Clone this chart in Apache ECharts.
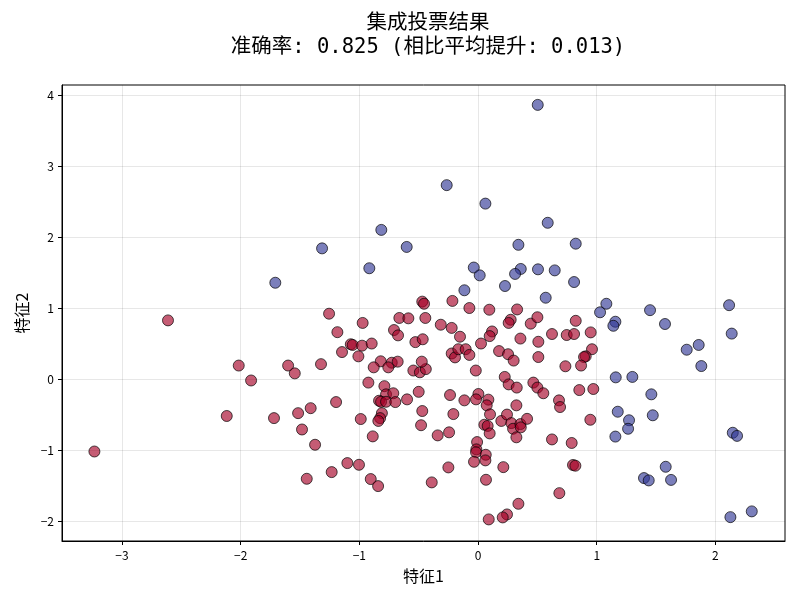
<!DOCTYPE html>
<html>
<head>
<meta charset="utf-8">
<script src="https://cdn.jsdelivr.net/npm/echarts@6/dist/echarts.min.js"></script>
<style>
html, body { margin: 0; padding: 0; background: #fff; }
#chart { width: 800px; height: 600px; }
</style>
</head>
<body>
<div id="chart"></div>
<script>
// 预测为类别0的点(红)
var redX = [-2.612, -2.016, -1.912, -1.60, -1.544, -2.117, -1.719, -1.516, -1.483, -3.232,
	-1.255, -0.972, -0.663, -0.587, -1.185, -0.708, -0.674, -0.528, -1.072, -1.056,
	-0.977, -0.896, -1.146, -1.008, -0.820, -0.879, -0.727, -0.677, -0.756, -0.545,
	-1.323, -0.924, -0.789, -0.775, -0.714, -0.834, -0.817, -0.775, -0.697, -0.598,
	-1.196, -1.41, -0.50, -0.47, -0.455, -0.466, -0.49, -0.44, -0.474,
	-0.216, -0.073, 0.095, 0.329, -0.444, -0.314, -0.222, -0.152, 0.275, 0.258,
	0.444, 0.50, 0.118, 0.098, 0.025, 0.357, 0.508, -0.222, -0.194, -0.166,
	-0.104, -0.073, 0.177, 0.253, 0.30, 0.508, -0.019, 0.225, 0.258, 0.326,
	0.466, 0.50, -0.236, -0.115, 0.003, -0.017, 0.087, 0.073, 0.323, -0.47,
	0.823, 0.623, 0.747, 0.809, 0.949, 0.96, 0.907, 0.893, 0.736, 0.868,
	0.55, 0.853, 0.971, 0.682, 0.691,
	-0.988, -0.81, -0.825, -0.84, -0.48, -0.887, -1.373, -1.101, -1.003, -1.233,
	-1.443, -0.904, -0.842,
	-0.208, -0.34, -0.244, 0.101, 0.053, 0.081, 0.098, 0.196, 0.244, 0.28,
	0.295, 0.357, 0.36, 0.323, 0.413, -0.008, -0.014, -0.017, -0.034, 0.065,
	0.062, -0.25, 0.213, -0.39, 0.067, 0.34, 0.244, 0.208, 0.09,
	0.946, 0.623, 0.789, 0.80, 0.82, 0.685];
var redY = [0.826, 0.19, -0.02, 0.19, 0.08, -0.52, -0.55, -0.48, -0.71, -1.02,
	0.92, 0.79, 0.86, 0.855, 0.66, 0.69, 0.615, 0.52, 0.49, 0.48,
	0.47, 0.50, 0.38, 0.32, 0.25, 0.165, 0.23, 0.245, 0.165, 0.12,
	0.21, -0.05, -0.10, -0.215, -0.20, -0.305, -0.32, -0.32, -0.324, -0.286,
	-0.324, -0.41, -0.18, 1.09, 1.06, 0.56, 0.095, 0.14, 0.245,
	1.10, 1.00, 0.976, 0.98, 0.86, 0.765, 0.72, 0.596, 0.835, 0.79,
	0.78, 0.87, 0.67, 0.605, 0.50, 0.57, 0.525, 0.36, 0.305, 0.42,
	0.42, 0.34, 0.394, 0.35, 0.26, 0.31, 0.12, 0.03, -0.075, -0.12,
	-0.05, -0.12, -0.225, -0.30, -0.21, -0.286, -0.29, -0.37, -0.37, -0.45,
	0.82, 0.634, 0.62, 0.634, 0.657, 0.42, 0.32, 0.31, 0.18, 0.19,
	-0.20, -0.155, -0.14, -0.30, -0.394,
	-0.563, -0.48, -0.55, -0.59, -0.65, -0.807, -0.925, -1.183, -1.207, -1.31,
	-1.404, -1.408, -1.507,
	-0.493, -0.793, -0.75, -0.497, -0.643, -0.66, -0.765, -0.59, -0.50, -0.62,
	-0.70, -0.634, -0.68, -0.82, -0.56, -0.887, -0.99, -1.03, -1.165, -1.066,
	-1.145, -1.244, -1.24, -1.455, -1.418, -1.756, -1.906, -1.948, -1.976,
	-0.573, -0.85, -0.90, -1.21, -1.22, -1.606];

// 预测为类别1的点(蓝)
var blueX = [0.503, -0.264, 0.062, -0.815, -1.314, -0.601, -0.916, 0.340, -0.036, 0.014,
	0.36, 0.312, 0.505, 0.227, -0.115, -1.708, 0.587, 0.823, 0.646, 0.809,
	0.570, 1.081, 1.028, 1.449, 2.115, 1.157, 1.14, 1.16, 1.30, 1.46,
	1.177, 1.472, 1.272, 1.264, 1.157, 1.398, 1.438, 1.575, 2.137, 1.859,
	1.758, 1.881, 2.146, 2.182, 1.581, 1.626, 2.126, 2.306];
var blueY = [3.86, 2.73, 2.47, 2.10, 1.84, 1.86, 1.56, 1.89, 1.57, 1.46,
	1.55, 1.48, 1.545, 1.31, 1.25, 1.356, 2.20, 1.906, 1.53, 1.366,
	1.145, 1.06, 0.94, 0.97, 1.04, 0.807, 0.75, 0.024, 0.03, -0.215,
	-0.46, -0.51, -0.58, -0.70, -0.81, -1.394, -1.427, 0.775, 0.64, 0.48,
	0.413, 0.183, -0.756, -0.80, -1.235, -1.42, -1.944, -1.863];

// 刻度
var xTicks = [-3, -2, -1, 0, 1, 2];
var yTicks = [-2, -1, 0, 1, 2, 3, 4];

var titleText = '集成投票结果\n准确率: 0.825 (相比平均提升: 0.013)';
var xName = '特征1';
var yName = '特征2';

function pairs(xs, ys) {
	var out = [];
	for (var i = 0; i < xs.length; i++) {
		out.push([xs[i], ys[i]]);
	}
	return out;
}

function tickLabel(v) {
	v = Math.round(v);
	return v < 0 ? '\u2212' + Math.abs(v) : String(v);
}

var FONT = '"Noto Sans CJK SC", "DejaVu Sans", sans-serif';
var TITLE_FONT = '"DejaVu Sans Mono", "Noto Sans CJK SC", sans-serif';

function axisBase(ticks) {
	return {
		type : 'value',
		axisLine : { show : true, onZero : false, lineStyle : { color : '#000', width : 1 } },
		axisTick : { show : true, length : 4, customValues : ticks, lineStyle : { color : '#000' } },
		axisLabel : { color : '#000', fontSize : 12, fontFamily : FONT, customValues : ticks, formatter : tickLabel },
		splitLine : { show : true, lineStyle : { color : 'rgba(0,0,0,0.12)', width : 0.8 } },
		nameLocation : 'middle',
		nameTextStyle : { color : '#000', fontSize : 16, fontFamily : FONT }
	};
}

var myChart = echarts.init(document.getElementById('chart'), null, { renderer : 'canvas' });

var xAxis = axisBase(xTicks);
xAxis.min = -3.505;
xAxis.max = 2.586;
xAxis.name = xName;
xAxis.nameGap = 27;

var yAxis = axisBase(yTicks);
yAxis.min = -2.28;
yAxis.max = 4.14;
yAxis.name = yName;
yAxis.nameGap = 30;

var option = {
	backgroundColor : '#fff',
	animation : false,
	title : {
		text : titleText,
		left : 423,
		top : 7,
		textAlign : 'center',
		textStyle : {
			fontSize : 20.5,
			fontWeight : 'normal',
			color : '#000',
			fontFamily : TITLE_FONT,
			lineHeight : 24
		}
	},
	grid : {
		left : 62,
		right : 15,
		top : 85,
		bottom : 59,
		show : true,
		borderColor : '#000',
		borderWidth : 1,
		backgroundColor : 'transparent'
	},
	xAxis : xAxis,
	yAxis : yAxis,
	series : [ {
		name : '类别0',
		type : 'scatter',
		symbolSize : 11,
		itemStyle : {
			color : 'rgba(165,0,38,0.8)',
			borderColor : 'rgba(0,0,0,0.85)',
			borderWidth : 1
		},
		data : pairs(redX, redY)
	}, {
		name : '类别1',
		type : 'scatter',
		symbolSize : 11,
		itemStyle : {
			color : 'rgba(49,54,149,0.8)',
			borderColor : 'rgba(0,0,0,0.85)',
			borderWidth : 1
		},
		data : pairs(blueX, blueY)
	} ]
};

myChart.setOption(option);
</script>
</body>
</html>
